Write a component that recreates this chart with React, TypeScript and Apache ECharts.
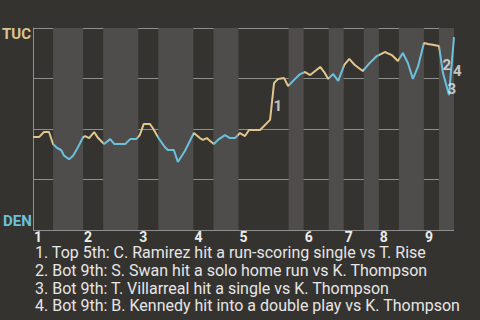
import React, { useEffect, useRef } from "react";
import * as echarts from "echarts";

// Half-inning boundaries, in event (plate appearance) units
const halfInningBounds = [0, 4, 10, 14, 21, 25, 32, 36, 41, 51, 54, 59, 62, 66, 69, 73, 78, 81, 84];
const inningLabels = ["1", "2", "3", "4", "5", "6", "7", "8", "9"];

// Win probability path: x = event position, y = TUC win probability (%)
const eventX = [
  0.0, 1.2, 2.2, 3.2, 4.0, 4.8, 5.6, 6.2, 7.2, 8.0, 9.0, 10.0, 10.4, 11.2, 12.2, 13.0, 14.2, 15.4, 16.2, 18.4,
  19.4, 20.6, 21.3, 22.1, 23.3, 23.9, 24.7, 25.3, 26.3, 26.9, 28.1, 28.9, 30.3, 32.1, 33.3, 33.9, 34.7, 35.1, 36.1, 36.9,
  38.3, 39.3, 40.3, 41.3, 42.3, 43.1, 45.3, 47.3, 48.1, 48.9, 50.1, 50.9, 52.3, 53.3, 54.3, 55.3, 57.3, 58.1, 58.9, 59.9,
  60.9, 62.1, 63.1, 64.2, 65.8, 67.2, 68.6, 70.2, 71.6, 72.8, 73.8, 74.8, 75.8, 76.8, 78.0, 78.8, 80.0, 81.0, 81.8, 83.0,
  84.0,
];
const tucWinProb = [
  46.0, 46.0, 48.5, 48.5, 42.6, 40.6, 39.6, 36.8, 35.0, 36.8, 41.1, 46.0, 46.5, 45.5, 48.5, 45.5, 42.6, 45.0, 42.6, 42.6,
  45.0, 45.0, 47.0, 52.5, 52.5, 50.5, 47.0, 44.6, 41.1, 39.6, 39.6, 33.7, 39.1, 48.0, 45.5, 44.6, 45.5, 44.6, 42.6, 44.6,
  47.0, 45.5, 45.5, 48.0, 46.5, 49.5, 49.5, 54.5, 72.8, 74.8, 75.2, 71.3, 74.8, 77.2, 78.2, 76.7, 80.7, 78.2, 74.8, 77.2,
  73.8, 81.7, 84.7, 81.7, 78.7, 82.7, 86.1, 88.1, 86.6, 83.7, 87.6, 82.7, 74.8, 80.7, 92.6, 92.1, 91.6, 91.1, 77.7, 66.8,
  95.5,
];

// Key plays: label and the index of the point where the play starts
const keyPlayLabels = ["1", "2", "3", "4"];
const keyPlayStart = [47, 77, 78, 79];
const keyPlayNotes = [
  "1. Top 5th: C. Ramirez hit a run-scoring single vs T. Rise",
  "2. Bot 9th: S. Swan hit a solo home run vs K. Thompson",
  "3. Bot 9th: T. Villarreal hit a single vs K. Thompson",
  "4. Bot 9th: B. Kennedy hit into a double play vs K. Thompson",
];

const BG = "#353330";
const STRIPE = "#4e4d4b";
const GOLD = "#e1c68c";
const BLUE = "#6cc0dc";
const GRID = "#8f8f8f";
const FONT = "Roboto";

export default function App() {
  const ref = useRef<HTMLDivElement>(null);

  useEffect(() => {
    if (!ref.current) return;
    const chart = echarts.init(ref.current, null, { renderer: "svg" });

    const lineData = eventX.map((x, i) => [x, tucWinProb[i]]);

    const stripes: any[] = [];
    const pieces: any[] = [];
    for (let i = 0; i < halfInningBounds.length - 1; i++) {
      const a = halfInningBounds[i];
      const b = halfInningBounds[i + 1];
      if (i % 2 === 1) stripes.push([{ xAxis: a }, { xAxis: b }]);
      const piece: any = { gte: a, color: i % 2 === 0 ? GOLD : BLUE };
      if (i < halfInningBounds.length - 2) piece.lt = b;
      pieces.push(piece);
    }

    const inningStarts: Record<number, string> = {};
    for (let k = 0; k < inningLabels.length; k++) {
      inningStarts[halfInningBounds[k * 2]] = inningLabels[k];
    }

    const annotations = keyPlayLabels.map((lab, k) => {
      const s = keyPlayStart[k];
      return {
        name: lab,
        value: [(eventX[s] + eventX[s + 1]) / 2, (tucWinProb[s] + tucWinProb[s + 1]) / 2],
      };
    });

    chart.setOption({
      animation: false,
      backgroundColor: BG,
      grid: { left: 33, right: 26, top: 28, bottom: 90 },
      xAxis: {
        type: "value",
        min: 0,
        max: 84,
        interval: 1,
        axisLine: { show: false },
        axisTick: { show: false },
        splitLine: { show: false },
        axisLabel: {
          show: true,
          margin: 0,
          align: "left",
          color: "#ececec",
          fontFamily: FONT,
          fontWeight: "bold",
          fontSize: 14,
          lineHeight: 13,
          padding: [0, 0, 0, 1],
          formatter: (v: number) => inningStarts[v] || "",
        },
      },
      yAxis: {
        type: "value",
        min: 0,
        max: 100,
        interval: 25,
        axisLine: { show: true, lineStyle: { color: GRID, width: 1 } },
        axisTick: { show: false },
        axisLabel: { show: false },
        splitLine: { show: true, lineStyle: { color: GRID, width: 1 } },
      },
      visualMap: {
        show: false,
        type: "piecewise",
        dimension: 0,
        seriesIndex: 0,
        pieces,
      },
      series: [
        {
          type: "line",
          data: lineData,
          showSymbol: false,
          lineStyle: { width: 2 },
          z: 3,
          markArea: {
            silent: true,
            itemStyle: { color: STRIPE },
            data: stripes,
            z: 1,
          },
        },
        {
          type: "scatter",
          data: annotations,
          symbolSize: 1,
          itemStyle: { color: "rgba(0,0,0,0)" },
          silent: true,
          z: 4,
          label: {
            show: true,
            position: [2, -1],
            align: "left",
            verticalAlign: "top",
            formatter: (p: any) => p.name,
            color: "#ececec",
            fontFamily: FONT,
            fontWeight: "bold",
            fontSize: 15,
            lineHeight: 13,
          },
        },
      ],
      graphic: [
        {
          type: "text",
          left: 2,
          top: 26,
          style: { text: "TUC", fill: "#dcc592", font: `bold 15px ${FONT}` },
        },
        {
          type: "text",
          left: 3,
          top: 213,
          style: { text: "DEN", fill: BLUE, font: `bold 15px ${FONT}` },
        },
        {
          type: "text",
          left: 35,
          top: 244,
          style: {
            text: keyPlayNotes.join("\n"),
            fill: "#e6e6e6",
            font: `16px ${FONT}`,
            lineHeight: 17.6,
          },
        },
      ],
    });

    return () => chart.dispose();
  }, []);

  return (
    <div
      ref={ref}
      style={{ position: "fixed", left: 0, top: 0, width: 480, height: 320, background: BG }}
    />
  );
}
